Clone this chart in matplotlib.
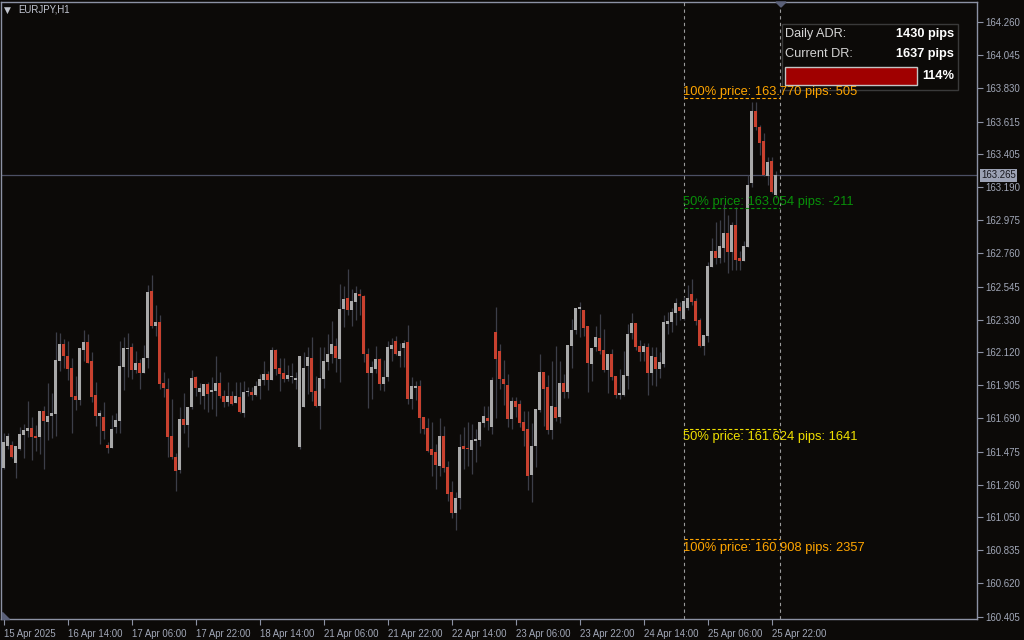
import numpy as np
import matplotlib.pyplot as plt
from matplotlib.patches import Rectangle, Polygon

plt.rcParams['font.family'] = ['Liberation Sans', 'DejaVu Sans']

# EURJPY H1 candles, 15 Apr 22:00 .. 25 Apr 23:00
opens = [161.369, 161.511, 161.518, 161.401, 161.492, 161.582, 161.608, 161.628, 161.576, 161.570,
         161.738, 161.667, 161.706, 161.719, 162.062, 162.172, 162.095, 162.017, 161.835, 161.809,
         162.134, 162.185, 162.062, 161.842, 161.706, 161.699, 161.518, 161.498, 161.634, 161.673,
         162.023, 162.140, 162.153, 162.004, 162.049, 161.984, 162.082, 162.516, 162.289, 162.315,
         161.920, 161.881, 161.576, 161.440, 161.356, 161.686, 161.647, 161.764, 161.959, 161.861,
         161.835, 161.913, 161.861, 161.868, 161.920, 161.835, 161.796, 161.835, 161.790, 161.829,
         161.725, 161.861, 161.861, 161.842, 161.900, 161.939, 161.978, 161.939, 162.134, 162.017,
         161.984, 161.946, 161.959, 161.939, 161.505, 161.764, 162.030, 162.082, 161.868, 161.770,
         161.946, 162.056, 162.108, 162.159, 162.075, 162.399, 162.471, 162.393, 162.445, 162.497,
         162.484, 162.108, 161.984, 162.010, 162.075, 161.913, 161.959, 162.140, 162.192, 162.095,
         162.147, 162.185, 161.816, 161.887, 161.900, 161.699, 161.628, 161.492, 161.472, 161.381,
         161.576, 161.375, 161.213, 161.077, 161.174, 161.511, 161.498, 161.485, 161.544, 161.550,
         161.660, 161.693, 161.634, 162.250, 162.127, 161.946, 161.907, 161.686, 161.803, 161.783,
         161.667, 161.621, 161.323, 161.511, 161.745, 161.991, 161.894, 161.615, 161.764, 161.699,
         161.920, 161.861, 162.159, 162.263, 162.399, 162.393, 162.289, 162.043, 162.153, 162.211,
         162.134, 162.004, 162.108, 161.965, 161.842, 161.842, 161.965, 162.244, 162.309, 162.159,
         162.121, 162.153, 161.984, 162.088, 162.010, 162.043, 162.302, 162.315, 162.373, 162.412,
         162.334, 162.406, 162.497, 162.451, 162.328, 162.159, 162.224, 162.672, 162.775, 162.730,
         162.795, 162.892, 162.769, 162.944, 162.730, 162.710, 162.801, 163.216, 163.683, 163.579,
         163.488, 163.261, 163.359, 163.138]
highs = [161.593, 161.593, 161.544, 161.511, 161.637, 161.654, 161.803, 161.699, 161.647, 161.738,
         161.770, 161.920, 161.855, 162.250, 162.244, 162.205, 162.192, 162.082, 161.965, 162.147,
         162.263, 162.237, 162.121, 161.926, 161.745, 161.796, 161.537, 161.712, 161.725, 162.192,
         162.218, 162.244, 162.179, 162.127, 162.075, 162.166, 162.555, 162.620, 162.425, 162.360,
         161.991, 161.952, 161.816, 161.466, 161.764, 161.855, 161.764, 162.004, 161.965, 161.920,
         161.913, 161.926, 161.959, 162.095, 161.991, 161.874, 161.926, 161.868, 161.926, 161.926,
         161.933, 161.894, 161.894, 161.933, 161.978, 162.062, 161.997, 162.153, 162.140, 162.082,
         162.082, 162.036, 162.049, 161.991, 162.095, 162.121, 162.153, 162.218, 161.965, 162.153,
         162.153, 162.237, 162.322, 162.211, 162.561, 162.548, 162.659, 162.529, 162.548, 162.529,
         162.490, 162.147, 162.062, 162.159, 162.082, 162.069, 162.192, 162.211, 162.224, 162.179,
         162.198, 162.296, 161.959, 161.933, 161.939, 161.699, 161.693, 161.667, 161.524, 161.693,
         161.641, 161.414, 161.284, 161.213, 161.589, 161.634, 161.667, 161.654, 161.621, 161.667,
         161.770, 161.770, 161.959, 162.412, 162.172, 162.069, 161.978, 161.829, 161.829, 161.809,
         161.738, 161.738, 161.660, 161.751, 162.108, 161.991, 161.971, 162.062, 162.159, 162.062,
         161.978, 162.166, 162.335, 162.406, 162.445, 162.393, 162.289, 162.147, 162.289, 162.367,
         162.270, 162.108, 162.140, 161.965, 162.010, 162.127, 162.302, 162.373, 162.309, 162.198,
         162.179, 162.179, 162.153, 162.153, 162.121, 162.360, 162.380, 162.406, 162.471, 162.445,
         162.477, 162.555, 162.594, 162.471, 162.339, 162.231, 162.704, 162.860, 162.963, 162.976,
         163.080, 163.009, 162.963, 163.061, 162.775, 162.840, 163.268, 163.741, 163.741, 163.592,
         163.540, 163.385, 163.385, 163.294]
lows = [161.364, 161.494, 161.436, 161.304, 161.485, 161.433, 161.572, 161.420, 161.479, 161.459,
        161.362, 161.550, 161.563, 161.576, 161.997, 162.017, 161.939, 161.595, 161.745, 161.777,
        162.062, 162.047, 161.796, 161.641, 161.524, 161.557, 161.466, 161.498, 161.595, 161.595,
        161.874, 161.959, 161.946, 161.984, 161.881, 161.984, 162.017, 162.276, 162.224, 161.881,
        161.829, 161.440, 161.427, 161.219, 161.336, 161.595, 161.505, 161.751, 161.835, 161.783,
        161.751, 161.732, 161.751, 161.706, 161.822, 161.764, 161.770, 161.777, 161.790, 161.725,
        161.699, 161.835, 161.809, 161.835, 161.816, 161.907, 161.874, 161.939, 161.971, 161.868,
        161.926, 161.933, 161.920, 161.881, 161.492, 161.764, 161.848, 161.803, 161.764, 161.621,
        161.887, 162.004, 162.049, 161.991, 161.926, 162.283, 162.360, 162.289, 162.328, 162.360,
        162.056, 161.758, 161.816, 161.984, 161.874, 161.868, 161.933, 162.062, 162.101, 162.023,
        162.023, 161.783, 161.751, 161.809, 161.595, 161.589, 161.472, 161.317, 161.232, 161.317,
        161.343, 161.155, 161.044, 160.967, 161.103, 161.362, 161.381, 161.330, 161.407, 161.511,
        161.634, 161.615, 161.589, 161.693, 161.881, 161.777, 161.634, 161.621, 161.701, 161.637,
        161.511, 161.226, 161.148, 161.375, 161.732, 161.641, 161.589, 161.557, 161.673, 161.660,
        161.822, 161.822, 162.017, 162.237, 162.218, 162.224, 161.861, 161.933, 162.127, 162.108,
        161.991, 161.855, 161.939, 161.822, 161.816, 161.835, 161.881, 162.205, 162.134, 162.062,
        162.062, 161.842, 161.907, 161.900, 161.952, 162.023, 162.237, 162.250, 162.296, 162.328,
        162.328, 162.393, 162.425, 162.296, 162.151, 162.101, 162.185, 162.672, 162.691, 162.697,
        162.704, 162.633, 162.652, 162.652, 162.652, 162.710, 162.801, 163.190, 163.560, 163.398,
        163.261, 163.203, 163.151, 163.119]
closes = [161.537, 161.576, 161.440, 161.511, 161.589, 161.615, 161.628, 161.570, 161.563, 161.738,
          161.673, 161.706, 161.725, 162.069, 162.172, 162.095, 162.010, 161.829, 161.809, 162.147,
          162.185, 162.049, 161.829, 161.706, 161.725, 161.608, 161.498, 161.621, 161.680, 162.030,
          162.147, 162.147, 162.004, 162.049, 161.984, 162.082, 162.510, 162.289, 162.315, 161.913,
          161.887, 161.570, 161.440, 161.349, 161.686, 161.647, 161.764, 161.952, 161.887, 161.887,
          161.913, 161.848, 161.874, 161.920, 161.835, 161.796, 161.835, 161.783, 161.835, 161.732,
          161.861, 161.868, 161.842, 161.900, 161.946, 161.978, 161.939, 162.134, 162.010, 161.978,
          161.946, 161.971, 161.965, 161.952, 162.095, 162.017, 162.088, 161.861, 161.770, 161.952,
          162.062, 162.108, 162.172, 162.082, 162.399, 162.464, 162.393, 162.451, 162.503, 162.484,
          162.108, 161.984, 162.023, 162.075, 161.913, 161.959, 162.153, 162.166, 162.108, 162.127,
          162.179, 161.816, 161.900, 161.900, 161.693, 161.621, 161.479, 161.453, 161.388, 161.576,
          161.369, 161.200, 161.077, 161.174, 161.505, 161.492, 161.492, 161.550, 161.557, 161.667,
          161.706, 161.673, 161.939, 162.075, 161.946, 161.913, 161.686, 161.803, 161.764, 161.660,
          161.608, 161.317, 161.511, 161.751, 161.991, 161.881, 161.615, 161.770, 161.693, 161.920,
          161.861, 162.166, 162.263, 162.406, 162.412, 162.276, 162.049, 162.147, 162.218, 162.127,
          162.004, 162.108, 161.959, 161.842, 161.855, 161.971, 162.237, 162.309, 162.153, 162.121,
          162.159, 161.984, 162.095, 162.010, 162.056, 162.315, 162.322, 162.380, 162.438, 162.386,
          162.451, 162.471, 162.445, 162.321, 162.159, 162.231, 162.678, 162.775, 162.730, 162.808,
          162.892, 162.769, 162.944, 162.717, 162.710, 162.808, 163.203, 163.683, 163.579, 163.475,
          163.268, 163.352, 163.158, 163.265]

time_labels = ['15 Apr 2025', '16 Apr 14:00', '17 Apr 06:00', '17 Apr 22:00', '18 Apr 14:00',
               '21 Apr 06:00', '21 Apr 22:00', '22 Apr 14:00', '23 Apr 06:00', '23 Apr 22:00',
               '24 Apr 14:00', '25 Apr 06:00', '25 Apr 22:00']
label_step = 16

price_ticks = [164.260, 164.045, 163.830, 163.615, 163.405, 163.190, 162.975, 162.760, 162.545,
               162.330, 162.120, 161.905, 161.690, 161.475, 161.260, 161.050, 160.835, 160.620, 160.405]
bid = 163.265

# daily range levels (today = bars 170..193)
day_start = 170
day_end = 194
level_prices = [163.770, 163.054, 161.624, 160.908]
level_names = ['100%', '50%', '50%', '100%']
level_pips = [505, -211, 1641, 2357]

adr_pips = 1430
dr_pips = 1637

# ---- style ----
bg = '#0c0a08'
frame = '#8c92a4'
txt = '#a2a8b8'
bull = '#a9a9a9'
bear = '#c8412f'
wick = '#3c3e48'
level_colors = ['#ffa500', '#089008', '#f0e000', '#ffa500']
level_above = [True, True, False, False]

W, H = 1024, 640
fig = plt.figure(figsize=(W / 100, H / 100), dpi=100, facecolor=bg)


def px(x, y):
    return x / W, 1 - y / H


ax = fig.add_axes([1 / W, 21 / H, 976 / W, 617 / H])
ax.patch.set_visible(False)   # figure already has the chart colour; lets the panel sit under the labels

o = np.array(opens)
h = np.array(highs)
l = np.array(lows)
c = np.array(closes)
x = np.arange(len(o))
up = c >= o

ax.vlines(x, l, h, color=wick, lw=0.9, zorder=2)
body_lo = np.minimum(o, c)
body_h = np.maximum(np.abs(c - o), 0.006)
ax.bar(x[up], body_h[up], bottom=body_lo[up], width=0.75, color=bull, lw=0, zorder=3)
ax.bar(x[~up], body_h[~up], bottom=body_lo[~up], width=0.75, color=bear, lw=0, zorder=3)

ax.set_xlim(-0.625, 243.375)
ax.set_ylim(160.389, 164.390)

# bid line
ax.axhline(bid, color='#4c5064', lw=0.9, zorder=1)

# today separators
for d in (day_start, day_end):
    ax.axvline(d, color='#9a9a9a', lw=0.8, ls=(0, (3, 3)), zorder=1)

# daily range levels
for p, name, pips, col, above in zip(level_prices, level_names, level_pips, level_colors, level_above):
    ax.plot([day_start, day_end], [p, p], color=col, lw=0.8, ls=(0, (3, 2)), zorder=4)
    label = f'{name} price: {p:.3f} pips: {pips}'
    if above:
        ax.annotate(label, (day_start - 0.1, p), xytext=(0, 0.0), textcoords='offset points',
                    color=col, fontsize=9.3, ha='left', va='bottom', zorder=5)
    else:
        ax.annotate(label, (day_start - 0.1, p), xytext=(0, -2), textcoords='offset points',
                    color=col, fontsize=9.3, ha='left', va='top', zorder=5)

# axes
for s in ax.spines.values():
    s.set_color(frame)
    s.set_linewidth(1)
ax.yaxis.tick_right()
ax.set_yticks(price_ticks)
ax.set_yticklabels([f'{v:.3f}' for v in price_ticks])
ax.set_xticks(np.arange(0, len(o), label_step))
ax.set_xticklabels(time_labels, ha='left')
ax.tick_params(axis='both', direction='out', length=4, width=0.8, color=frame,
               labelcolor=txt, labelsize=6.9)
ax.tick_params(axis='y', pad=2)
ax.tick_params(axis='x', pad=3)

# bid price tag
ax.annotate(f'{bid:.3f}', (1, bid), xycoords=('axes fraction', 'data'), xytext=(3, 0),
            textcoords='offset points', ha='left', va='center', fontsize=6.9, color='#16161c',
            bbox=dict(boxstyle='square,pad=0.15', fc='#9ca2b4', ec='none'), zorder=6,
            annotation_clip=False)

# symbol caption
fig.text(*px(4, 10), '\u25bc', fontsize=6.5, color='#c0c4cc', va='center', ha='left',
         family=['DejaVu Sans'])
fig.text(*px(18, 10), 'EURJPY,H1', fontsize=6.9, color='#c4c8d4', va='center', ha='left')

# shift markers
fig.add_artist(Polygon([px(776, 2), px(786, 2), px(781, 7)], closed=True,
                       transform=fig.transFigure, color='#5a6078'))
fig.add_artist(Polygon([px(2, 612), px(2, 619), px(9, 619)], closed=True,
                       transform=fig.transFigure, color='#5a6078'))

# ADR info panel (drawn under the axes so the level caption stays on top)
x0, y0 = px(782, 90)
x1, y1 = px(958, 24)
fig.add_artist(Rectangle((x0, y0), x1 - x0, y1 - y0, transform=fig.transFigure,
                         fc=bg, ec='#3a3a3a', lw=1, zorder=-1))
fig.text(*px(785, 34), 'Daily ADR:', fontsize=9.2, color='#d4d4d4', va='center', ha='left', zorder=8)
fig.text(*px(954, 34), f'{adr_pips} pips', fontsize=9.2, color='white', weight='bold',
         va='center', ha='right', zorder=8)
fig.text(*px(785, 54), 'Current DR:', fontsize=9.2, color='#d4d4d4', va='center', ha='left', zorder=8)
fig.text(*px(954, 54), f'{dr_pips} pips', fontsize=9.2, color='white', weight='bold',
         va='center', ha='right', zorder=8)
ratio = dr_pips / adr_pips
bx0, by0 = px(785, 85)
bx1, by1 = px(917, 67)
fig.add_artist(Rectangle((bx0, by0), (bx1 - bx0) * min(ratio, 1), by1 - by0,
                         transform=fig.transFigure, fc='#a00000', ec='none', zorder=8))
fig.add_artist(Rectangle((bx0, by0), bx1 - bx0, by1 - by0, transform=fig.transFigure,
                         fc='none', ec='#c4c4c4', lw=1, zorder=9))
fig.text(*px(954, 76), f'{ratio * 100:.0f}%', fontsize=9.2, color='white', weight='bold',
         va='center', ha='right', zorder=8)

fig.savefig('out.png', dpi=100, facecolor=bg)
